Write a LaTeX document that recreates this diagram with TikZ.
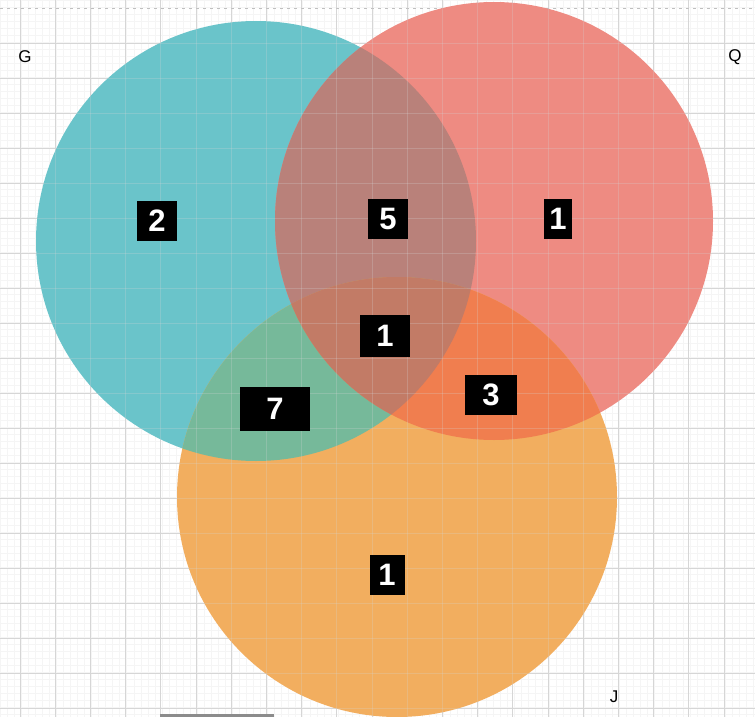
\documentclass[tikz,border=0pt]{standalone}
\usepackage{fontspec}
\setsansfont{Liberation Sans}
\usetikzlibrary{positioning}
\definecolor{gteal}{HTML}{6AC4CA}
\definecolor{qred}{HTML}{EE8B82}
\definecolor{jorange}{HTML}{F2AE5F}
\definecolor{gqmix}{HTML}{B9817A}
\definecolor{gjmix}{HTML}{76B99A}
\definecolor{qjmix}{HTML}{F07E4F}
\definecolor{allmix}{HTML}{C27B66}
\tikzset{
  tag/.style      = {rectangle, fill=black, text=white, inner sep=0pt, minimum height=40pt,
                     font=\sffamily\bfseries\fontsize{31}{31}\selectfont},
  setname/.style  = {font=\sffamily\fontsize{17}{17}\selectfont, text=black},
  gridmajor/.style = {draw=black!16, line width=0.8pt},
  gridminor/.style = {draw=black!4, line width=0.5pt},
}

\begin{document}
\begin{tikzpicture}[x=1pt, y=-1pt]
  \useasboundingbox (0,0) rectangle (755,717);
  \fill[white] (0,0) rectangle (755,717);
  % grid
  \foreach \i in {0,...,107} \draw[gridminor] ({\i*7.04}, 0) -- ++(0,717);
  \foreach \i in {0,...,102} \draw[gridminor] (0, {\i*7}) -- ++(755,0);
  \foreach \i in {0,...,21} \draw[gridmajor] ({20+\i*35.2}, 0) -- ++(0,717);
  \foreach \i in {0,...,19} \draw[gridmajor] (0, {43+\i*35}) -- ++(755,0);
  \draw[black!25, dash pattern=on 3pt off 4pt] (0,8) -- (755,8);
  % circles
  \coordinate (g) at (256,241);
  \coordinate (q) at (494,221);
  \coordinate (j) at (397,497);
  \fill[gteal] (g) circle [radius=220pt];
  \fill[qred] (q) circle [radius=219pt];
  \fill[jorange] (j) circle [radius=220pt];
  \begin{scope}
    \clip (g) circle [radius=220pt];
    \fill[gqmix] (q) circle [radius=219pt];
    \fill[gjmix] (j) circle [radius=220pt];
  \end{scope}
  \begin{scope}
    \clip (q) circle [radius=219pt];
    \fill[qjmix] (j) circle [radius=220pt];
  \end{scope}
  \begin{scope}
    \clip (g) circle [radius=220pt];
    \clip (q) circle [radius=219pt];
    \fill[allmix] (j) circle [radius=220pt];
  \end{scope}
  % faint grid seen through the fills
  \begin{scope}[opacity=0.25]
    \foreach \i in {0,...,21} \draw[gridmajor] ({20+\i*35.2}, 0) -- ++(0,717);
    \foreach \i in {0,...,19} \draw[gridmajor] (0, {43+\i*35}) -- ++(755,0);
  \end{scope}
  % counts
  \node[tag, minimum width=40pt] (onlyg) at (157,221) {2};
  \node[tag, minimum width=40pt] (gq) at (388,219) {5};
  \node[tag, minimum width=28pt] (onlyq) at (558,219) {1};
  \node[tag, minimum width=50pt, minimum height=42pt] (gqj) at (385,336) {1};
  \node[tag, minimum width=70pt, minimum height=44pt] (gj) at (275,409) {7};
  \node[tag, minimum width=52pt] (qj) at (491,395) {3};
  \node[tag, minimum width=35pt] (onlyj) at (387,575) {1};
  % set names
  \node[setname] (lg) at (25,57) {G};
  \node[setname] (lq) at (735,57) {Q};
  \node[setname] (lj) at (614,697) {J};
  \fill[black!45] (160,714) rectangle (274,717);
\end{tikzpicture}
\end{document}
